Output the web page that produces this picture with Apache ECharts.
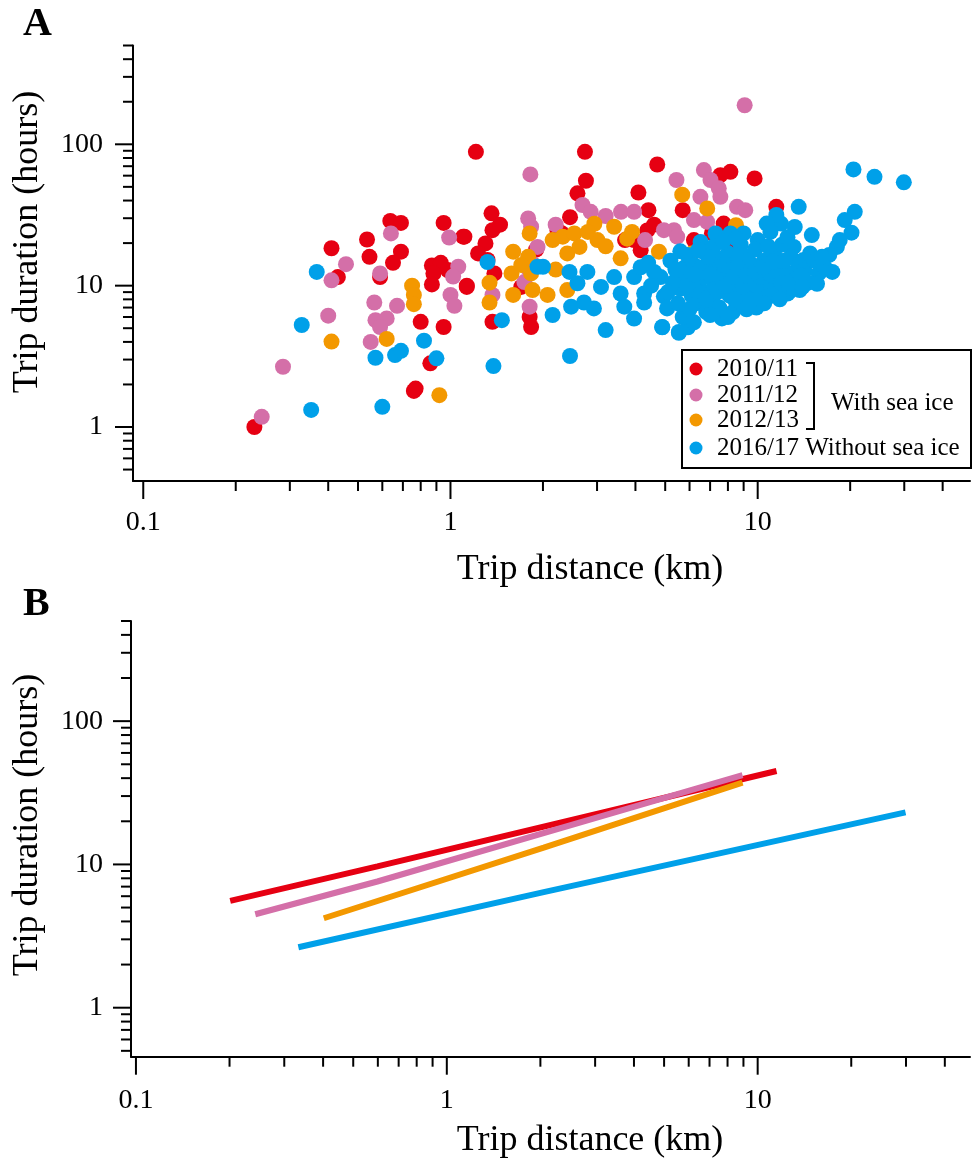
<!DOCTYPE html>
<html>
<head>
<meta charset="utf-8">
<script src="https://cdn.jsdelivr.net/npm/echarts@6/dist/echarts.min.js"></script>
<style>
  html, body { margin: 0; padding: 0; background: #ffffff; }
  #chart { width: 973px; height: 1162px; }
</style>
</head>
<body>
<div id="chart"></div>
<script>
// Foraging trips: distance (km) vs duration (hours), per season
const seasons = ['2010/11', '2011/12', '2012/13', '2016/17'];
const seasonColors = ['#E60012', '#D46FA8', '#F39800', '#00A0E9'];

const trips2010 = [
  [0.23,1.0],[0.76,1.8],[0.77,1.87],[0.86,2.82],[0.43,11.5],[0.41,18.4],[0.535,21.2],[0.545,16.0],
  [0.637,28.7],[0.69,27.8],[0.69,17.4],[0.65,14.5],[0.59,11.5],[0.8,5.55],[0.95,5.1],[0.95,27.8],
  [1.11,22.2],[0.87,13.9],[0.93,14.5],[0.88,12.2],[0.87,10.2],[0.98,12.9],[1.13,9.8],[1.21,88.5],
  [2.74,88.5],[2.76,55.2],[2.59,45],[4.71,72],[4.09,45.6],[4.41,34.2],[5.7,34.2],[1.36,32.5],
  [1.37,24.7],[1.30,19.9],[1.23,16.9],[1.32,15.2],[1.1,22.2],[1.13,10.0],[1.39,12.2],[1.37,5.55],
  [1.83,5.1],[1.81,6.0],[1.7,9.8],[2.23,24.6],[4.37,24.6],[4.16,17.8],[3.96,21],[7.56,60.5],
  [8.15,63.9],[9.77,57.4],[11.5,36.1],[7.75,27.5],[2.45,30.5],[2.3,23.5],[3.7,21],[4.6,27],
  [6.2,21],[7.1,23.5],[8.3,21],[1.45,27],[1.9,18]
];

const trips2011 = [
  [0.243,1.18],[0.285,2.67],[0.4,6.13],[0.41,10.9],[0.457,14.2],[0.64,23.4],[0.59,12.2],[0.565,7.6],
  [0.67,7.2],[0.62,5.86],[0.57,5.7],[0.59,5.1],[0.55,4.0],[0.99,21.9],[1.06,13.6],[1.02,11.6],
  [1.0,8.6],[1.03,7.2],[1.37,8.6],[1.82,61.2],[5.44,55.9],[2.69,37.2],[2.86,33.3],[3.2,31.1],
  [3.59,33.3],[3.96,33.3],[1.79,29.9],[1.83,26.1],[1.92,18.8],[1.85,14.3],[1.81,7.1],[1.74,10.6],
  [9.07,189],[6.68,65.7],[7.02,55.9],[7.47,48.8],[7.56,42.5],[6.51,42.5],[8.56,36.1],[9.11,34.2],
  [6.2,29.1],[6.85,28.3],[5.34,24.7],[4.95,24.7],[5.47,22.2],[4.3,21],[2.2,27],[1.8,13]
];

const trips2012 = [
  [0.41,4.02],[0.92,1.68],[0.75,10],[0.76,8.6],[0.76,7.4],[0.62,4.2],[1.34,10.5],[1.34,7.6],
  [1.6,17.4],[1.58,12.2],[1.6,8.6],[1.79,16],[1.83,12.2],[1.85,9.3],[1.81,23.4],[2.07,8.6],
  [2.15,21],[2.32,22.2],[2.4,9.3],[2.53,23.4],[2.63,18.8],[2.94,27.4],[3.01,21],[3.41,26.1],
  [3.76,21.5],[3.58,15.6],[2.4,16.9],[5.68,44],[6.85,35.2],[8.5,26.8],[6.1,16.9],[4.77,17.4],
  [2.8,24],[3.2,19],[3.9,24],[2.2,13],[1.7,14]
];

const trips2016 = [
  [0.352,1.32],[0.6,1.39],[0.57,3.09],[0.66,3.23],[0.69,3.46],[0.82,4.08],[0.9,3.06],[0.328,5.27],
  [0.367,12.5],[1.32,14.7],[1.47,5.7],[1.38,2.7],[2.45,3.18],[1.92,13.6],[2.0,13.6],[2.15,6.2],
  [2.44,12.5],[2.79,12.5],[2.59,10.4],[2.47,7.1],[2.72,7.6],[2.93,6.9],[3.09,9.8],[3.41,11.5],
  [3.58,8.8],[3.68,7.1],[3.96,11.5],[4.16,13.5],[4.27,8.8],[4.27,7.6],[3.96,5.85],[3.2,4.85],
  [4.83,11.5],[4.95,8.4],[5.07,6.9],[4.89,5.1],[5.54,4.7],
  [20.5,66.4],[24,58.9],[29.9,53.8],[13.6,36.1],[20.7,33.3],[19.2,29.1],[20.2,23.7],[18.1,18.8],
  [17.1,16.5],[15,22.8],[15.8,12.2],[13.7,9.3],[12.7,9.1],[13.1,18.8],[11.9,27.5],[11.5,31.6],
  [10.7,27.5],[14.1,15.2],[14.8,16.9],[10,21],[9.0,23.4],[8.15,23.4],[7.29,23.4],[6.52,20.4],
  [4.89,5.07],[5.54,4.64],[5.93,5.07],[7.65,5.86],[9.46,7.9],[8.56,7.1],
  [5.2,15],[5.5,12],[5.6,9.5],[5.8,13.5],[5.9,16.5],[6.0,11],[6.1,8.5],[6.2,14],[6.3,7.5],[6.4,10],
  [6.5,12.5],[6.6,17.5],[6.7,9],[6.8,6.5],[6.9,11.5],[7.0,14.5],[7.1,8],[7.2,19],[7.3,10.5],[7.4,12.5],
  [7.5,7],[7.6,15.5],[7.7,9.5],[7.8,11],[7.9,13],[8.0,17],[8.1,8.5],[8.2,10],[8.3,6.5],[8.4,12],
  [8.5,14.5],[8.6,9],[8.7,11],[8.8,19.5],[8.9,7.5],[9.0,13],[9.1,10.5],[9.2,16],[9.3,8.5],[9.4,12],
  [9.5,9.5],[9.6,14],[9.7,11],[9.8,18],[9.9,7],[10.1,12.5],[10.3,9.5],[10.5,15],[10.7,10.5],[10.9,13],
  [11.1,8.5],[11.3,17],[11.5,11],[11.8,14],[12.1,9.8],[12.4,12.5],[12.8,16],[13.2,11],[13.6,14],[14.2,12.8],
  [14.6,10.5],[15.3,15],[16.5,13.5],[5.3,10.5],[5.5,7.5],[5.7,6],[6.0,6.8],[6.3,9.2],[6.6,13.5],[6.9,16],
  [7.2,9.8],[7.5,11.5],[7.8,14],[8.1,12.8],[8.4,8],[8.7,16.5],[9.0,9.8],[9.3,15],[9.6,8],[9.9,10],
  [10.2,11.5],[10.6,8.2],[11.0,12],[11.4,9.5],[11.9,10.5],[12.5,8.8],[13.0,9.7],[5.4,13],[5.9,10],[6.2,12],
  [6.8,8],[7.0,12],[7.4,9],[7.9,10],[8.3,11.5],[8.6,13.5],[9.2,11.8],[9.8,12.5],[10.4,13.5],[11.2,14.8],
  [12.2,15],[7.7,20.5],[8.5,21.5],[6.4,17.8],[10.8,19],[12.0,19.5],[5.1,9],[5.6,17.5],[4.6,12.5],[4.5,10],
  [4.4,14.5],[6.2,5.5],[7.0,6.2],[8.0,6],[9.2,6.8],[10.5,7.5],[11.8,8],[12.6,10.5],[13.8,11.8],[14.0,9.8],
  [15.6,10.3],[17.5,12.5],[16.2,16],[18.5,21],[12.5,22],[13.2,26],[11,24]
];

// Fitted power-law relationships (panel B)
const fit2010 = [[0.201,5.56],[0.598,9.7],[11.5,44.9]];
const fit2011 = [[0.242,4.49],[0.598,7.6],[8.94,42.0]];
const fit2012 = [[0.402,4.21],[2.05,13.1],[8.94,37.2]];
const fit2016 = [[0.333,2.64],[2.05,6.4],[29.9,23.1]];

// Axis ticks
const xMajorTicks = [0.1, 1, 10];
const xMajorLabels = ['0.1', '1', '10'];
const xMinorTicks = [0.2,0.3,0.4,0.5,0.6,0.7,0.8,0.9,2,3,4,5,6,7,8,9,20,30,40];
const yMajorTicks = [1, 10, 100];
const yMajorLabels = ['1', '10', '100'];
const yMinorTicks = [0.5,0.6,0.7,0.8,0.9,2,3,4,5,6,7,8,9,20,30,40,50,60,70,80,90,200,300,400,500];

const xTitle = 'Trip distance (km)';
const yTitle = 'Trip duration (hours)';
const legendWith = 'With sea ice';
const legendWithout = 'Without sea ice';

const SERIF = '"Liberation Serif", "DejaVu Serif", serif';

// Axis extents for each panel
const panels = [
  { grid: { left: 133, top: 45.5, width: 840, height: 435.5 }, xMin: 0.0926, xMax: 49.1, yMin: 0.415, yMax: 500 },
  { grid: { left: 131, top: 621, width: 842, height: 435.7 }, xMin: 0.0964, xMax: 48.2, yMin: 0.455, yMax: 500 }
];

function labelFor(ticks, labels) {
  return function (v) {
    for (let i = 0; i < ticks.length; i++) {
      if (Math.abs(v - ticks[i]) / ticks[i] < 1e-6) return labels[i];
    }
    return '';
  };
}

function tickSeries(idx, axis, values, len) {
  const p = panels[idx];
  return {
    type: 'custom',
    xAxisIndex: idx,
    yAxisIndex: idx,
    silent: true,
    clip: false,
    z: 5,
    data: values.map(v => axis === 'x' ? [v, p.yMin] : [p.xMin, v]),
    renderItem: function (params, api) {
      const pt = api.coord([api.value(0), api.value(1)]);
      const shape = axis === 'x'
        ? { x1: pt[0], y1: pt[1], x2: pt[0], y2: pt[1] + len }
        : { x1: pt[0] - len, y1: pt[1], x2: pt[0], y2: pt[1] };
      return { type: 'line', shape: shape, style: { stroke: '#000', lineWidth: 2 } };
    }
  };
}

const chart = echarts.init(document.getElementById('chart'), null, { renderer: 'canvas' });

const xAxes = panels.map((p, i) => ({
  type: 'log', logBase: 10, gridIndex: i, min: p.xMin, max: p.xMax,
  axisLine: { show: true, onZero: false, lineStyle: { color: '#000', width: 2 } },
  axisTick: { show: false },
  splitLine: { show: false },
  axisLabel: {
    fontFamily: SERIF, fontSize: 28, color: '#000', margin: i === 0 ? 28 : 30,
    formatter: labelFor(xMajorTicks, xMajorLabels)
  }
}));

const yAxes = panels.map((p, i) => ({
  type: 'log', logBase: 10, gridIndex: i, min: p.yMin, max: p.yMax,
  axisLine: { show: true, onZero: false, lineStyle: { color: '#000', width: 2 } },
  axisTick: { show: false },
  splitLine: { show: false },
  axisLabel: {
    fontFamily: SERIF, fontSize: 28, color: '#000', margin: i === 0 ? 30 : 28,
    formatter: labelFor(yMajorTicks, yMajorLabels)
  }
}));

const tripSets = [trips2010, trips2011, trips2012, trips2016];
const fitSets = [fit2010, fit2011, fit2012, fit2016];

const series = [];
tripSets.forEach((d, i) => {
  series.push({
    name: seasons[i], type: 'scatter', xAxisIndex: 0, yAxisIndex: 0,
    data: d, symbol: 'circle', symbolSize: 16,
    itemStyle: { color: seasonColors[i], opacity: 1 },
    z: 2 + i
  });
});
fitSets.forEach((d, i) => {
  series.push({
    name: seasons[i], type: 'line', xAxisIndex: 1, yAxisIndex: 1,
    data: d, showSymbol: false, symbol: 'none',
    lineStyle: { color: seasonColors[i], width: 6, cap: 'butt' },
    z: 2 + i
  });
});
[0, 1].forEach(i => {
  series.push(tickSeries(i, 'x', xMajorTicks, 18));
  series.push(tickSeries(i, 'x', xMinorTicks, 10));
  series.push(tickSeries(i, 'y', yMajorTicks, 18));
  series.push(tickSeries(i, 'y', yMinorTicks, 10));
});

// Panel letters, axis titles and the season key
const keyRows = [369, 395, 420, 448];
const graphic = [
  { type: 'text', x: 23, y: 25, style: { text: 'A', fontFamily: SERIF, fontWeight: 'bold', fontSize: 40, fill: '#000', align: 'left', verticalAlign: 'middle' } },
  { type: 'text', x: 23, y: 605, style: { text: 'B', fontFamily: SERIF, fontWeight: 'bold', fontSize: 40, fill: '#000', align: 'left', verticalAlign: 'middle' } },
  { type: 'text', x: 590, y: 570, style: { text: xTitle, fontFamily: SERIF, fontSize: 36, fill: '#000', align: 'center', verticalAlign: 'middle' } },
  { type: 'text', x: 590, y: 1141, style: { text: xTitle, fontFamily: SERIF, fontSize: 36, fill: '#000', align: 'center', verticalAlign: 'middle' } },
  { type: 'text', x: 28, y: 242, rotation: Math.PI / 2, style: { text: yTitle, fontFamily: SERIF, fontSize: 36, fill: '#000', align: 'center', verticalAlign: 'middle' } },
  { type: 'text', x: 28, y: 825, rotation: Math.PI / 2, style: { text: yTitle, fontFamily: SERIF, fontSize: 36, fill: '#000', align: 'center', verticalAlign: 'middle' } },
  {
    type: 'group', z: 100,
    children: [
      { type: 'rect', shape: { x: 682, y: 350, width: 289, height: 118 }, style: { fill: '#fff', stroke: '#000', lineWidth: 2 } },
      ...seasons.map((s, i) => ({
        type: 'circle', shape: { cx: 696, cy: keyRows[i], r: 6.5 }, style: { fill: seasonColors[i] }
      })),
      ...seasons.map((s, i) => ({
        type: 'text', x: 717, y: keyRows[i],
        style: { text: i === 3 ? s + ' ' + legendWithout : s, fontFamily: SERIF, fontSize: 25, fill: '#000', align: 'left', verticalAlign: 'middle' }
      })),
      { type: 'polyline', shape: { points: [[806, 363], [814, 363], [814, 429], [806, 429]] }, style: { fill: 'none', stroke: '#000', lineWidth: 2 } },
      { type: 'text', x: 831, y: 403, style: { text: legendWith, fontFamily: SERIF, fontSize: 25, fill: '#000', align: 'left', verticalAlign: 'middle' } }
    ]
  }
];

chart.setOption({
  animation: false,
  backgroundColor: '#ffffff',
  grid: panels.map(p => Object.assign({ containLabel: false }, p.grid)),
  xAxis: xAxes,
  yAxis: yAxes,
  series: series,
  graphic: graphic
});
</script>
</body>
</html>
